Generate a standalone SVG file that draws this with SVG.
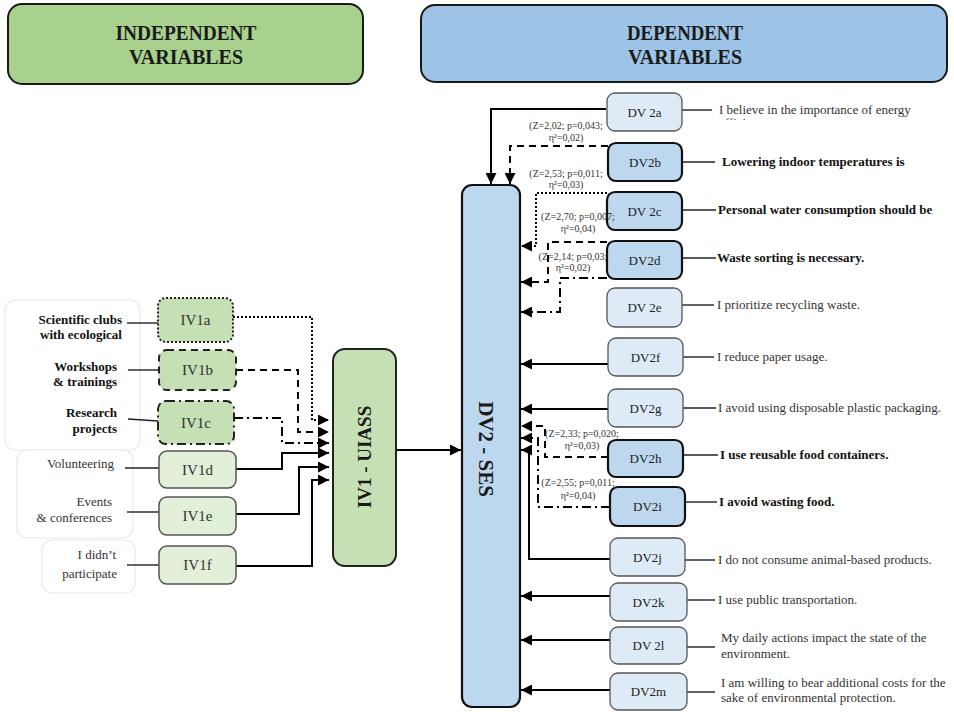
<svg xmlns="http://www.w3.org/2000/svg" width="954" height="712" viewBox="0 0 954 712">
<defs>
<marker id="ah" viewBox="0 0 10 10" refX="10" refY="5" markerWidth="13" markerHeight="11" markerUnits="userSpaceOnUse" orient="auto"><path d="M0,0L10,5L0,10z" fill="#000"/></marker>
<clipPath id="cut"><rect x="700" y="100" width="250" height="20"/></clipPath>
</defs>
<style>
text{font-family:"Liberation Serif","Times New Roman",serif}
.hdr{stroke:#1a1a1a;stroke-width:2}
.h{font-size:20px;font-weight:bold;fill:#1a1a1a;text-anchor:middle}
.grp{fill:#fff;stroke:#e8e8e8;stroke-width:1.2}
.lb{font-size:13px;font-weight:bold;fill:#111;text-anchor:end}
.ln{font-size:13px;fill:#333;text-anchor:end}
.ivd{fill:#c5e0b4;stroke:#222;stroke-width:2}
.ivl{fill:#e2f0d9;stroke:#555;stroke-width:1.5}
.ivt{font-size:15px;fill:#333;text-anchor:middle}
.dvd{fill:#bdd7ee;stroke:#111;stroke-width:2.2}
.dvl{fill:#deebf7;stroke:#555;stroke-width:1.3}
.dvt{font-size:13px;fill:#222;text-anchor:middle}
.big{font-weight:bold;fill:#1a1a1a;text-anchor:middle}
.rn{font-size:13px;fill:#333}
.rb{font-size:13px;font-weight:bold;fill:#111}
.c{fill:none;stroke:#000;stroke-width:2}
.th{fill:none;stroke:#222;stroke-width:1.4}
.a{marker-end:url(#ah)}
.dash{stroke-dasharray:7 5}
.dot{stroke-dasharray:2 2}
.dd{stroke-dasharray:9 4 2 4}
.z{font-size:10px;fill:#333;text-anchor:middle}
</style>

<g id="hdr-independent">
<rect class="hdr" x="8" y="4" width="355" height="80" rx="14" fill="#a9d18e"/>
<text class="h" x="186" y="40" textLength="141" lengthAdjust="spacingAndGlyphs">INDEPENDENT</text>
<text class="h" x="186" y="64" textLength="114" lengthAdjust="spacingAndGlyphs">VARIABLES</text>
</g>
<g id="hdr-dependent">
<rect class="hdr" x="421" y="5" width="526" height="77" rx="14" fill="#9dc3e6"/>
<text class="h" x="685" y="40" textLength="116" lengthAdjust="spacingAndGlyphs">DEPENDENT</text>
<text class="h" x="685" y="64" textLength="114" lengthAdjust="spacingAndGlyphs">VARIABLES</text>
</g>

<g id="label-frames">
<rect class="grp" x="5" y="300" width="135" height="150" rx="10"/>
<rect class="grp" x="17" y="450" width="116" height="88" rx="10"/>
<rect class="grp" x="42" y="540" width="93" height="53" rx="10"/>
</g>

<g id="connectors">
<path class="th" d="M127,323H158"/>
<path class="th" d="M128,370H159"/>
<path class="th" d="M128,419L158,421"/>
<path class="th" d="M125,468H159"/>
<path class="th" d="M127,512H159"/>
<path class="th" d="M127,565H159"/>
<path class="c a dot" d="M233,317H312V420H329"/>
<path class="c a dash" d="M236,370H298V432H329"/>
<path class="c a dd" d="M234,418H282V443H329"/>
<path class="c a" d="M236,469H282V453H329"/>
<path class="c a" d="M236,514H299V467H329"/>
<path class="c a" d="M236,566H312V480H329"/>
<path class="c a" d="M396,450H461"/>
<path class="c a" d="M606,109H491V184"/>
<path class="c a dash" d="M608,146H510V184"/>
<path class="c a dot" d="M607,193H536V246H521"/>
<path class="c a dash" d="M607,242H548V282H521"/>
<path class="c a dd" d="M607,278H560V312H521"/>
<path class="c a" d="M608,364H521"/>
<path class="c a" d="M608,409H521"/>
<path class="c a dash" d="M608,457H545V426H521"/>
<path class="c a dd" d="M610,507H538V438H521"/>
<path class="c a" d="M610,559H529V450H521"/>
<path class="c a" d="M610,596H521"/>
<path class="c a" d="M610,640H521"/>
<path class="c a" d="M610,690H521"/>
<path class="th" d="M682,110H712"/>
<path class="th" d="M682,162H715"/>
<path class="th" d="M682,210H716"/>
<path class="th" d="M682,258H716"/>
<path class="th" d="M682,305H714"/>
<path class="th" d="M683,357H714"/>
<path class="th" d="M683,408H716"/>
<path class="th" d="M683,455H718"/>
<path class="th" d="M685,502H717"/>
<path class="th" d="M685,560H715"/>
<path class="th" d="M687,600H715"/>
<path class="th" d="M687,647H715"/>
<path class="th" d="M687,692H715"/>
<text class="z" x="566" y="129">(Z=2,02; p=0,043;</text>
<text class="z" x="566" y="141">η²=0,02)</text>
<text class="z" x="566" y="177">(Z=2,53; p=0,011;</text>
<text class="z" x="566" y="188">η²=0,03)</text>
<text class="z" x="573" y="260">(Z=2,14; p=0,03;</text>
<text class="z" x="573" y="271">η²=0,02)</text>
<text class="z" x="582" y="437">(Z=2,33; p=0,020;</text>
<text class="z" x="582" y="449">η²=0,03)</text>
<text class="z" x="578" y="486">(Z=2,55; p=0,011;</text>
<text class="z" x="578" y="499">η²=0,04)</text>
</g>

<g id="IV1a">
<rect class="ivd dot" x="158" y="298" width="75" height="44" rx="8"/>
<text class="ivt" x="195.5" y="325">IV1a</text>
<text class="lb" x="122" y="324">Scientific clubs</text>
<text class="lb" x="122" y="339">with ecological</text>
</g>
<g id="IV1b">
<rect class="ivd dash" x="159" y="350" width="77" height="40" rx="8"/>
<text class="ivt" x="197.5" y="375">IV1b</text>
<text class="lb" x="117" y="371">Workshops</text>
<text class="lb" x="117" y="386">&amp; trainings</text>
</g>
<g id="IV1c">
<rect class="ivd dd" x="158" y="401" width="76" height="43" rx="8"/>
<text class="ivt" x="196" y="427.5">IV1c</text>
<text class="lb" x="117" y="417">Research</text>
<text class="lb" x="117" y="433">projects</text>
</g>
<g id="IV1d">
<rect class="ivl" x="159" y="451" width="77" height="37" rx="8"/>
<text class="ivt" x="197.5" y="474.5">IV1d</text>
<text class="ln" x="114" y="468">Volunteering</text>
</g>
<g id="IV1e">
<rect class="ivl" x="159" y="497" width="77" height="38" rx="8"/>
<text class="ivt" x="197.5" y="521">IV1e</text>
<text class="ln" x="112" y="506">Events</text>
<text class="ln" x="112" y="522">&amp; conferences</text>
</g>
<g id="IV1f">
<rect class="ivl" x="159" y="546" width="77" height="38" rx="8"/>
<text class="ivt" x="197.5" y="570">IV1f</text>
<text class="ln" x="116" y="559">I didn’t</text>
<text class="ln" x="117" y="578">participate</text>
</g>

<g id="IV1">
<rect class="ivd" x="333" y="349" width="63" height="217" rx="12"/>
<text class="big" font-size="19" transform="translate(371,457) rotate(-90)">IV1 - UIASS</text>
</g>

<g id="DV2">
<rect class="dvd" x="462" y="185" width="58" height="522" rx="10"/>
<text class="big" font-size="21" transform="translate(479,449) rotate(90)">DV2 - SES</text>
</g>

<g id="DV2a">
<rect class="dvl" x="607" y="93" width="75" height="38" rx="8"/>
<text class="dvt" x="644.5" y="116.5">DV 2a</text>
<text class="rn" x="719" y="114">I believe in the importance of energy</text>
<text class="rn" x="719" y="126.5" clip-path="url(#cut)">efficiency.</text>
</g>
<g id="DV2b">
<rect class="dvd" x="608" y="143" width="74" height="38" rx="8"/>
<text class="dvt" x="645" y="166.5">DV2b</text>
<text class="rb" x="722" y="166">Lowering indoor temperatures is</text>
</g>
<g id="DV2c">
<rect class="dvd" x="607" y="192" width="75" height="38" rx="8"/>
<text class="dvt" x="644.5" y="215.5">DV 2c</text>
<text class="rb" x="718" y="214">Personal water consumption should be</text>
</g>
<g id="DV2d">
<rect class="dvd" x="607" y="241" width="75" height="38" rx="8"/>
<text class="dvt" x="644.5" y="264.5">DV2d</text>
<text class="rb" x="717" y="262">Waste sorting is necessary.</text>
</g>
<text class="z" x="578" y="220">(Z=2,70; p=0,007;</text>
<text class="z" x="578" y="232">η²=0,04)</text>
<g id="DV2e">
<rect class="dvl" x="607" y="288" width="75" height="39" rx="8"/>
<text class="dvt" x="644.5" y="312">DV 2e</text>
<text class="rn" x="717" y="309">I prioritize recycling waste.</text>
</g>
<g id="DV2f">
<rect class="dvl" x="608" y="338" width="75" height="38" rx="8"/>
<text class="dvt" x="645.5" y="361.5">DV2f</text>
<text class="rn" x="717" y="361">I reduce paper usage.</text>
</g>
<g id="DV2g">
<rect class="dvl" x="608" y="389" width="75" height="38" rx="8"/>
<text class="dvt" x="645.5" y="412.5">DV2g</text>
<text class="rn" x="718" y="412">I avoid using disposable plastic packaging.</text>
</g>
<g id="DV2h">
<rect class="dvd" x="608" y="440" width="75" height="37" rx="8"/>
<text class="dvt" x="645.5" y="463">DV2h</text>
<text class="rb" x="720" y="459">I use reusable food containers.</text>
</g>
<g id="DV2i">
<rect class="dvd" x="610" y="487" width="75" height="39" rx="8"/>
<text class="dvt" x="647.5" y="511">DV2i</text>
<text class="rb" x="719" y="506">I avoid wasting food.</text>
</g>
<g id="DV2j">
<rect class="dvl" x="610" y="538" width="75" height="38" rx="8"/>
<text class="dvt" x="647.5" y="561.5">DV2j</text>
<text class="rn" x="718" y="564">I do not consume animal-based products.</text>
</g>
<g id="DV2k">
<rect class="dvl" x="610" y="583" width="77" height="38" rx="8"/>
<text class="dvt" x="648.5" y="606.5">DV2k</text>
<text class="rn" x="718" y="604">I use public transportation.</text>
</g>
<g id="DV2l">
<rect class="dvl" x="610" y="627" width="77" height="37" rx="8"/>
<text class="dvt" x="648.5" y="650">DV 2l</text>
<text class="rn" x="721" y="642">My daily actions impact the state of the</text>
<text class="rn" x="721" y="658">environment.</text>
</g>
<g id="DV2m">
<rect class="dvl" x="610" y="673" width="77" height="37" rx="8"/>
<text class="dvt" x="648.5" y="696">DV2m</text>
<text class="rn" x="721" y="687">I am willing to bear additional costs for the</text>
<text class="rn" x="721" y="702">sake of environmental protection.</text>
</g>
</svg>
